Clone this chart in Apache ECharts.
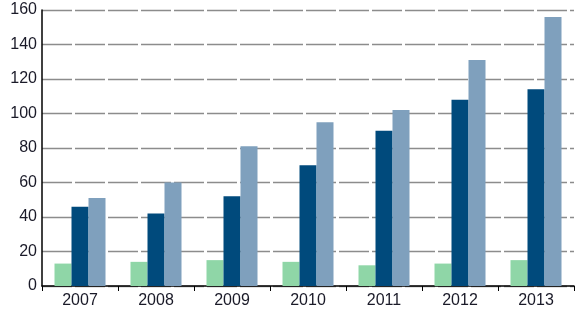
<!DOCTYPE html>
<html>
<head>
<meta charset="utf-8">
<script src="https://cdn.jsdelivr.net/npm/echarts@6/dist/echarts.min.js"></script>
<style>
  html, body { margin: 0; padding: 0; background: #fff; }
  #chart { width: 576px; height: 315px; }
</style>
</head>
<body>
<div id="chart"></div>
<script>
const years = ['2007', '2008', '2009', '2010', '2011', '2012', '2013']
const seriesA = [13, 14, 15, 14, 12, 13, 15]
const seriesB = [46, 42, 52, 70, 90, 108, 114]
const seriesC = [51, 60, 81, 95, 102, 131, 156]

const chart = echarts.init(document.getElementById('chart'))

const bar = (data, color) => ({
  type: 'bar',
  data: data,
  barWidth: 17,
  barGap: '0%',
  itemStyle: { color: color }
})

chart.setOption({
  animation: false,
  grid: { left: 42, right: 2, top: 10, bottom: 29 },
  xAxis: {
    type: 'category',
    data: years,
    axisLine: { lineStyle: { color: '#000', width: 1.5 } },
    axisTick: { show: true, length: 5, lineStyle: { color: '#000' } },
    axisLabel: {
      color: '#1a1a28',
      fontFamily: 'Liberation Sans Narrow, Liberation Sans, Arial',
      fontSize: 16,
      margin: 7
    }
  },
  yAxis: {
    type: 'value',
    min: 0,
    max: 160,
    interval: 20,
    axisLine: { show: true, lineStyle: { color: '#000', width: 1.5 } },
    axisTick: { show: false },
    axisLabel: {
      color: '#1a1a28',
      fontFamily: 'Liberation Sans Narrow, Liberation Sans, Arial',
      fontSize: 16,
      margin: 5
    },
    splitLine: { lineStyle: { color: '#8c8c8c', type: [30, 3], width: 1.3 } }
  },
  series: [
    bar(seriesA, '#8fd6a7'),
    bar(seriesB, '#004a7c'),
    bar(seriesC, '#7fa0bd')
  ]
})
</script>
</body>
</html>
